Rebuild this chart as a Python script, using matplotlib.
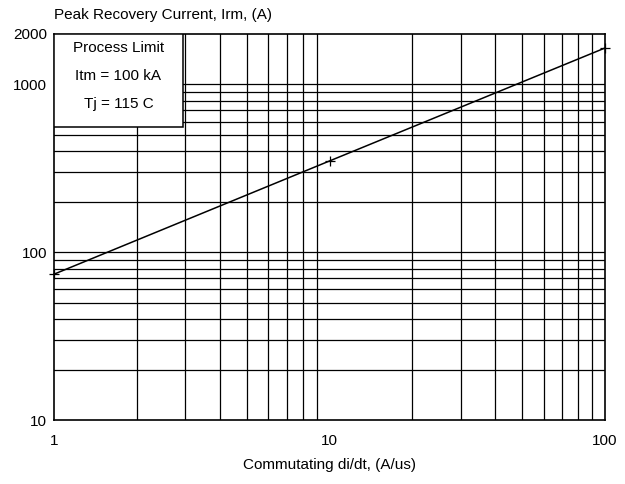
import numpy as np
import matplotlib.pyplot as plt
from matplotlib.patches import Rectangle

# peak recovery current vs commutating di/dt
didt = [1, 10, 100]
irm = [74, 350, 1650]

note_lines = ['Process Limit', 'Itm = 100 kA', 'Tj = 115 C']
x_ticks = [1, 10, 100]
y_ticks = [10, 100, 1000, 2000]

plt.rcParams['font.family'] = ['Liberation Sans', 'DejaVu Sans']
plt.rcParams['font.size'] = 11

fig = plt.figure(figsize=(6.25, 4.84), dpi=100)
ax = fig.add_axes([0.0864, 0.1322, 0.8816, 0.7976])

ax.set_xscale('log')
ax.set_yscale('log')
ax.set_xlim(1, 100)
ax.set_ylim(10, 2000)

# grid on every decade subdivision
for d in (1, 10):
    for k in range(2, 10):
        ax.axvline(k * d, color='k', lw=0.9, zorder=1)
for d in (10, 100):
    for k in range(1, 10):
        if k * d > 10:
            ax.axhline(k * d, color='k', lw=0.9, zorder=1)
ax.axhline(1000, color='k', lw=0.9, zorder=1)

ax.plot(didt, irm, color='k', lw=1.1, marker='+', ms=7, mew=0.9,
        clip_on=False, zorder=4)

ax.set_xticks(x_ticks)
ax.set_xticklabels([str(v) for v in x_ticks])
ax.set_yticks(y_ticks)
ax.set_yticklabels([str(v) for v in y_ticks])
ax.minorticks_off()
ax.tick_params(length=0, labelsize=11, pad=5)
ax.tick_params(axis='x', pad=10)
for s in ax.spines.values():
    s.set_color('k')
    s.set_linewidth(1.2)

# boxed note in the upper left corner
ax.add_patch(Rectangle((0, 0.759), 0.234, 0.241, transform=ax.transAxes,
                       facecolor='white', edgecolor='k', lw=1.1, zorder=3))
for i, t in enumerate(note_lines):
    ax.text(0.117, 0.963 - i * 0.072, t, transform=ax.transAxes,
            ha='center', va='center', fontsize=11, zorder=5)

fig.text(0.086, 0.970, 'Peak Recovery Current, Irm, (A)', ha='left',
         va='center', fontsize=11)
ax.set_xlabel('Commutating di/dt, (A/us)', fontsize=11, labelpad=7)

plt.savefig('out.png', dpi=100)
